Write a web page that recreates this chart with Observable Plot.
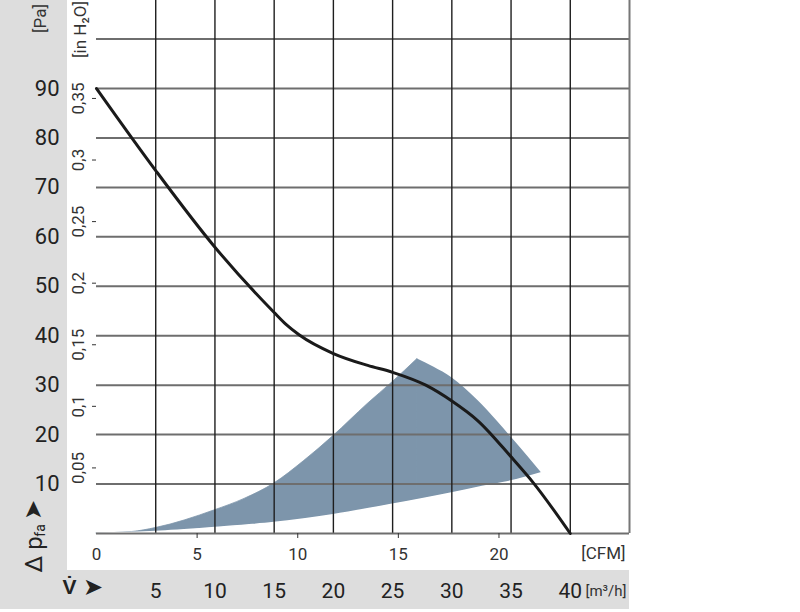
<!DOCTYPE html>
<html>
<head>
<meta charset="utf-8">
<script src="https://cdn.jsdelivr.net/npm/d3@7"></script>
<script src="https://cdn.jsdelivr.net/npm/@observablehq/plot@0.6"></script>
<style>
  body { margin: 0; background: white; }
  #wrap { position: relative; width: 800px; height: 612px; overflow: hidden; background: white; }
  .band { position: absolute; background: #dddddd; }
  #chart { position: absolute; left: 0; top: 0; }
</style>
</head>
<body>
<div id="wrap">
  <div class="band" style="left:0;top:0;width:67px;height:570px"></div>
  <div class="band" style="left:0;top:570px;width:629px;height:39px"></div>
  <div id="chart"></div>
</div>
<script>
const PA_PER_INH2O = 249.09
const M3H_PER_CFM = 1.699
const FONT = 'Roboto, "Liberation Sans", sans-serif'
const SHADE = '#7d95ab'

// fan curve: flow in m³/h, pressure in Pa
const curveFlow = [0, 5, 10, 15, 16, 17.1, 20, 22.9, 25, 27.8, 30, 32.2, 35, 36.9, 40]
const curvePa = [90, 73.4, 57.9, 44.7, 42.3, 40.2, 36.4, 34.0, 32.6, 30.0, 26.8, 22.8, 15.5, 10.2, 0]

// operating range: rising upper edge, upper arc, lower edge
const riseFlow = [0, 3, 5, 10, 12.5, 15, 17.5, 20, 22.9, 25, 27.1]
const risePa = [0, 0.3, 1.1, 4.7, 7.0, 10.1, 14.6, 19.7, 26.2, 30.6, 35.3]
const arcFlow = [27.1, 28.5, 30, 32.2, 33.8, 35, 36.4, 37.6]
const arcPa = [35.3, 33.6, 31.5, 26.9, 22.8, 19.5, 15.6, 12.2]
const lowerFlow = [0, 5, 10, 15, 20, 25, 30, 32.4, 35, 37.6]
const lowerPa = [0, 0.3, 1.1, 2.1, 3.7, 5.8, 8.1, 9.3, 10.5, 12.2]

const paTicks = [10, 20, 30, 40, 50, 60, 70, 80, 90]
const gridPa = [10, 20, 30, 40, 50, 60, 70, 80, 90, 100]
const gridFlow = [5, 10, 15, 20, 25, 30, 35, 40]
const inH2OTicks = [0.05, 0.1, 0.15, 0.2, 0.25, 0.3, 0.35]
const cfmTicks = [0, 5, 10, 15, 20]
const m3hTicks = [5, 10, 15, 20, 25, 30, 35, 40]

const pts = (xs, ys) => xs.map((x, i) => ({x, y: ys[i]}))
const cfmToM3h = c => c * M3H_PER_CFM

const chart = Plot.plot({
  width: 800,
  height: 612,
  marginLeft: 96,
  marginRight: 171,
  marginTop: 0,
  marginBottom: 79,
  style: {background: 'transparent', fontFamily: FONT, color: '#222'},
  x: {domain: [0, 45], axis: null},
  y: {domain: [0, 107.8], axis: null},
  marks: [
    Plot.areaY(pts(riseFlow, risePa), {x: 'x', y: 'y', fill: SHADE, stroke: SHADE, strokeWidth: 0.8, curve: 'monotone-x'}),
    Plot.areaY(pts(arcFlow, arcPa), {x: 'x', y: 'y', fill: SHADE, curve: 'monotone-x'}),
    Plot.areaY(pts(lowerFlow, lowerPa), {x: 'x', y: 'y', fill: 'white', stroke: 'white', strokeWidth: 1.5, curve: 'monotone-x'}),

    Plot.ruleY(gridPa, {stroke: '#6e6e6e', strokeWidth: 2}),
    Plot.ruleX(gridFlow, {stroke: '#1e1e1e', strokeWidth: 1.4}),
    Plot.ruleX([45], {stroke: '#777', strokeWidth: 2}),
    Plot.ruleY([0], {stroke: '#6e6e6e', strokeWidth: 2}),
    Plot.line(pts(curveFlow, curvePa), {x: 'x', y: 'y', stroke: '#1a1a1a', strokeWidth: 3, curve: 'monotone-x'}),

    // Pa axis
    Plot.axisY(paTicks, {anchor: 'left', label: null, tickSize: 0, tickPadding: 37, fontSize: 22, fill: '#222'}),
    // in H2O axis
    Plot.axisY(inH2OTicks.map(v => v * PA_PER_INH2O), {
      anchor: 'left', label: null, tickSize: 4, tickPadding: 14, tickRotate: -90,
      textAnchor: 'middle', lineAnchor: 'middle', dy: -4, fontSize: 17, fill: '#333', stroke: '#333',
      tickFormat: d => String(+(d / PA_PER_INH2O).toFixed(2)).replace('.', ',')
    }),
    // CFM axis: labels, then the small tick marks
    Plot.axisX(cfmTicks.map(cfmToM3h), {
      anchor: 'bottom', label: null, tickSize: 0, tickPadding: 14, fontSize: 17, fill: '#333',
      tickFormat: d => Math.round(d / M3H_PER_CFM)
    }),
    Plot.axisX(cfmTicks.filter(c => c > 0).map(cfmToM3h), {
      anchor: 'bottom', label: null, tickSize: 5, stroke: '#333', tickFormat: () => ''
    }),
    // m³/h axis
    Plot.axisX(m3hTicks, {anchor: 'bottom', label: null, tickSize: 0, tickPadding: 50, fontSize: 21, fill: '#222'}),

    Plot.text(['[Pa]'], {frameAnchor: 'top-left', dx: -56, dy: 18, rotate: -90, textAnchor: 'middle', lineAnchor: 'middle', fontSize: 17, fill: '#333'}),
    Plot.text(['[in H₂O]'], {frameAnchor: 'top-left', dx: -16, dy: 29, rotate: -90, textAnchor: 'middle', lineAnchor: 'middle', fontSize: 17, fill: '#333'}),
    Plot.text(['Δ p'], {frameAnchor: 'bottom-left', dx: -62, dy: 39, rotate: -90, textAnchor: 'start', lineAnchor: 'middle', fontSize: 24, fill: '#222'}),
    Plot.text(['fa'], {frameAnchor: 'bottom-left', dx: -56, dy: -3, rotate: -90, textAnchor: 'middle', lineAnchor: 'middle', fontSize: 14, fill: '#222'}),
    Plot.text(['➤'], {frameAnchor: 'bottom-left', dx: -63, dy: -24, rotate: -90, textAnchor: 'middle', lineAnchor: 'middle', fontSize: 24, fill: '#222'}),
    Plot.text(['[CFM]'], {frameAnchor: 'bottom-right', dx: -4, dy: 20, textAnchor: 'end', lineAnchor: 'middle', fontSize: 17, fill: '#333'}),
    Plot.text(['V̇'], {frameAnchor: 'bottom-left', dx: -27, dy: 54, textAnchor: 'middle', lineAnchor: 'middle', fontSize: 21, fontWeight: 'bold', fill: '#222'}),
    Plot.text(['➤'], {frameAnchor: 'bottom-left', dx: -4, dy: 54, textAnchor: 'middle', lineAnchor: 'middle', fontSize: 24, fill: '#222'}),
    Plot.text(['[m³/h]'], {frameAnchor: 'bottom-right', dx: -3, dy: 58, textAnchor: 'end', lineAnchor: 'middle', fontSize: 15, fill: '#333'})
  ]
})

document.getElementById('chart').append(chart)
</script>
</body>
</html>
